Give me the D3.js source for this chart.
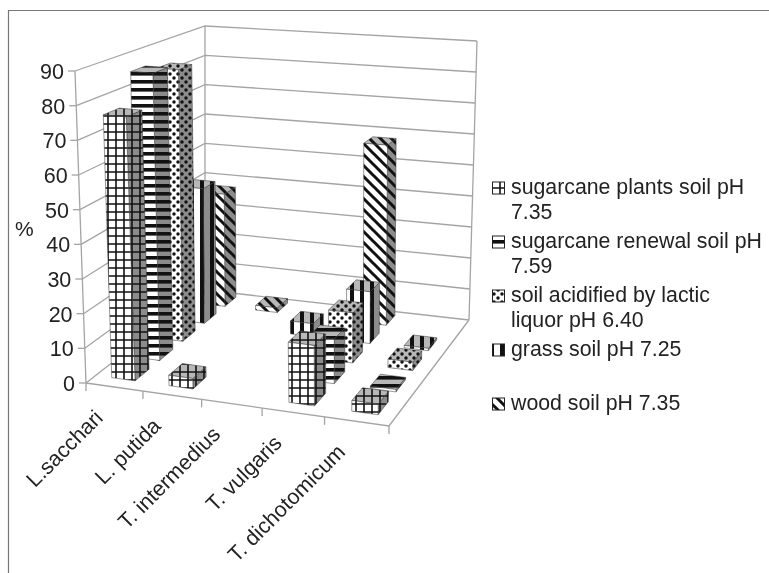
<!DOCTYPE html>
<html><head><meta charset="utf-8">
<script src="https://cdn.jsdelivr.net/npm/d3@7"></script>
<style>html,body{margin:0;padding:0;background:#fff}svg{display:block;filter:blur(.55px)}text{font-family:"Liberation Sans",Arial,sans-serif;fill:#222}</style>
</head><body><svg id="c" width="769" height="573"></svg>
<script>
const categories = ["L.sacchari","L. putida","T. intermedius","T. vulgaris","T. dichotomicum"];
const seriesNames = ["sugarcane plants soil pH 7.35","sugarcane renewal soil pH 7.59","soil acidified by lactic liquor pH 6.40","grass soil pH 7.25","wood soil pH 7.35"];
const legendLines = [["sugarcane plants soil pH","7.35"],["sugarcane renewal soil pH","7.59"],["soil acidified by lactic","liquor pH 6.40"],["grass soil pH 7.25"],["wood soil pH 7.35"]];
const plantsValues  = [76.5, 3, 0, 17, 3];
const renewalValues = [86, 0, 0, 13, 0.7];
const acidValues    = [84, 0, 0, 15, 2.5];
const grassValues   = [43, 0, 4, 16, 0.7];
const woodValues    = [37, 1.5, 0, 57.5, 0];
const seriesValues = [plantsValues,renewalValues,acidValues,grassValues,woodValues];
const valueTicks = [0,10,20,30,40,50,60,70,80,90];

const svg = d3.select("#c");
// room corners: floor and ceiling quads, [front-left, front-right, back-right, back-left]
const floorQ = [[86,383],[389,426],[469,320],[205,290]];
const ceilQ  = [[75,71],[399,99],[477,41],[205,26]];
function homography(q){
  const [[x0,y0],[x1,y1],[x2,y2],[x3,y3]] = q;
  const dx1=x1-x2,dx2=x3-x2,dx3=x0-x1+x2-x3,dy1=y1-y2,dy2=y3-y2,dy3=y0-y1+y2-y3;
  const det=dx1*dy2-dx2*dy1;
  const g=(dx3*dy2-dx2*dy3)/det,h=(dx1*dy3-dx3*dy1)/det;
  const a=x1-x0+g*x1,b=x3-x0+h*x3,d=y1-y0+g*y1,e=y3-y0+h*y3;
  return (u,v)=>{const w=g*u+h*v+1;return [(a*u+b*v+x0)/w,(d*u+e*v+y0)/w];};
}
const fl=homography(floorQ), ce=homography(ceilQ);
const xBand=d3.scaleBand().domain(categories).range([-.003,1.006]).paddingInner(.59).paddingOuter(.3);
const zBand=d3.scaleBand().domain(seriesNames).range([.03,1]).paddingInner(.44).paddingOuter(.21);
const yS=d3.scaleLinear().domain([0,90]).range([0,1]);
const P=(u,v,val)=>{const a=fl(u,v),b=ce(u,v),t=yS(val);return [a[0]+(b[0]-a[0])*t,a[1]+(b[1]-a[1])*t];};
const line=d3.line();

// patterns
const defs=svg.append("defs");
const patDraw=[
 (g)=>{g.append("path").attr("d","M0 4H8M4 0V8").attr("stroke","#111").attr("stroke-width",1.6);},
 (g)=>{g.append("rect").attr("width",8).attr("height",3.6).attr("fill","#111");},
 (g)=>{[[2,2],[6,6]].forEach(p=>g.append("circle").attr("cx",p[0]).attr("cy",p[1]).attr("r",1.75).attr("fill","#111"));},
 (g)=>{g.append("rect").attr("width",4).attr("height",8).attr("fill","#111");},
 (g)=>{g.append("path").attr("d","M-3 -3L14 14M-14 -3L3 14M8 -3L25 14").attr("stroke","#111").attr("stroke-width",3);}
];
const patSizes=[[8,8],[8,8],[8,8],[10,8],[11,11]];
const faces={front:"#fff",side:"#8c8c8c",top:"#b8b8b8"};
Object.entries(faces).forEach(([f,col])=>{
  patDraw.forEach((fn,i)=>{
    const p=defs.append("pattern").attr("id",`p${i}${f}`).attr("patternUnits","userSpaceOnUse").attr("width",patSizes[i][0]).attr("height",patSizes[i][1]);
    p.append("rect").attr("width",patSizes[i][0]).attr("height",patSizes[i][1]).attr("fill",col);
    fn(p);
  });
});

// frame
svg.append("path").attr("d","M8.5 573V10.5H769").attr("fill","none").attr("stroke","#777").attr("stroke-width",1.2);

// walls
const grid=svg.append("g").attr("fill","none").attr("stroke","#a4a4a4").attr("stroke-width",1.3);
valueTicks.forEach(t=>{
  grid.append("path").attr("d",line([P(0,0,t),P(0,1,t),P(1,1,t)]));
  const a=P(0,0,t);
  grid.append("path").attr("d",line([a,[a[0]-7,a[1]]]));
});
grid.append("path").attr("d",line([P(0,0,0),P(0,0,90)]));
grid.append("path").attr("d",line([P(0,1,0),P(0,1,90)]));
grid.append("path").attr("d",line([P(1,1,0),P(1,1,90)]));
grid.append("path").attr("d",line([P(0,0,0),P(1,0,0),P(1,1,0)]));
d3.range(categories.length+1).forEach(i=>{
  const a=P(i/categories.length,0,0);
  grid.append("path").attr("d",line([a,[a[0],a[1]+8]]));
});

// value labels
svg.append("g").selectAll("text").data(valueTicks).join("text")
  .attr("x",t=>P(0,0,t)[0]-11).attr("y",t=>P(0,0,t)[1]+8)
  .attr("text-anchor","end").attr("font-size",21.5).text(t=>t);
svg.append("text").attr("x",15).attr("y",236).attr("font-size",21).text("%");

// bars, back to front
const bars=svg.append("g").attr("stroke","#333").attr("stroke-width",.5).attr("stroke-linejoin","round");
for(let s=seriesNames.length-1;s>=0;s--){
  const v0=zBand(seriesNames[s]),v1=v0+zBand.bandwidth();
  categories.forEach((c,i)=>{
    const val=seriesValues[s][i]; if(!val) return;
    const u0=xBand(c),u1=u0+xBand.bandwidth();
    const poly=(pts,f)=>bars.append("path").attr("d",line(pts)+"Z").attr("fill",`url(#p${s}${f})`);
    poly([P(u1,v0,0),P(u1,v1,0),P(u1,v1,val),P(u1,v0,val)],"side");
    poly([P(u0,v0,val),P(u1,v0,val),P(u1,v1,val),P(u0,v1,val)],"top");
    poly([P(u0,v0,0),P(u1,v0,0),P(u1,v0,val),P(u0,v0,val)],"front");
  });
}

// category labels
svg.append("g").selectAll("text").data(categories).join("text")
  .attr("transform",(c,i)=>{const a=P((i+.5)/categories.length,0,0);return `translate(${a[0]-10},${a[1]+32}) rotate(-45)`;})
  .attr("text-anchor","end").attr("font-size",21.5).text(c=>c);

// legend
const legendY=[194,248,302,356,410];
const leg=svg.append("g");
seriesNames.forEach((n,i)=>{
  leg.append("rect").attr("x",492.5).attr("y",legendY[i]-12).attr("width",12).attr("height",12)
    .attr("fill",`url(#p${i}front)`).attr("stroke","#222").attr("stroke-width",1);
  legendLines[i].forEach((t,k)=>leg.append("text").attr("x",511).attr("y",legendY[i]+k*25).attr("font-size",21.3).text(t));
});
</script></body></html>
